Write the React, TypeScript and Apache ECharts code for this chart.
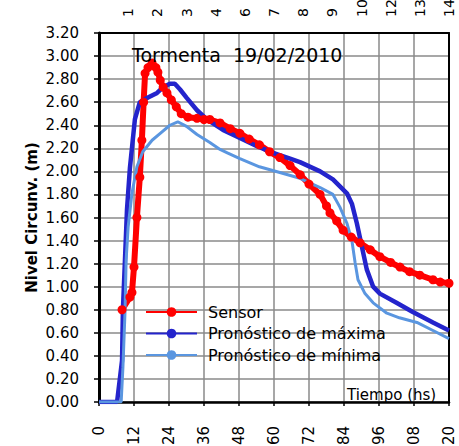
import React, { useEffect, useRef } from "react";
import * as echarts from "echarts";

const FONT = "DejaVu Sans";

const xTicks = [0, 12, 24, 36, 48, 60, 72, 84, 96, 108, 120];
const topTickHours = [10, 20, 30, 40, 50, 60, 70, 80, 90, 100, 110, 120];
const topLabels = ["1", "2", "3", "4", "6", "7", "8", "9", "10", "12", "13", "14"];

const sensorHours = [7.9, 10.6, 11.3, 12.0, 13.0, 14.0, 14.7, 15.3, 15.8, 16.8, 18.2, 19.5, 20.2, 21.0, 22.0, 23.3, 24.8, 26.5, 28.2, 30.5, 33.6, 36, 38, 41.5, 45, 48.3, 51.5, 55, 58.5, 62, 65.5, 69, 72, 75.8, 78, 79.2, 81.5, 83.7, 86.5, 89.5, 93, 96.3, 100, 103.2, 106.5, 110, 114.5, 117, 120];
const sensorLevels = [0.80, 0.91, 0.95, 1.17, 1.60, 1.95, 2.27, 2.60, 2.85, 2.90, 2.94, 2.90, 2.86, 2.79, 2.73, 2.68, 2.62, 2.56, 2.50, 2.47, 2.46, 2.45, 2.45, 2.42, 2.37, 2.33, 2.28, 2.23, 2.17, 2.12, 2.05, 1.97, 1.89, 1.80, 1.70, 1.64, 1.57, 1.49, 1.43, 1.38, 1.32, 1.26, 1.21, 1.17, 1.13, 1.10, 1.06, 1.04, 1.03];

const maxHours = [0, 6.2, 7.9, 8.2, 8.9, 9.6, 10.6, 12.3, 14, 16.8, 19.9, 22, 24.3, 26, 27.8, 30, 33.6, 37, 42.5, 48.3, 54, 59.7, 65.5, 68.9, 75.8, 80.2, 85, 86.7, 88.4, 90.1, 91.8, 94, 96.3, 102, 107.6, 114.5, 120];
const maxLevels = [0, 0, 0.36, 0.8, 1.23, 1.67, 2.03, 2.45, 2.60, 2.64, 2.68, 2.73, 2.76, 2.76, 2.71, 2.64, 2.53, 2.45, 2.36, 2.29, 2.22, 2.16, 2.11, 2.08, 2.0, 1.93, 1.81, 1.72, 1.55, 1.35, 1.15, 1.0, 0.94, 0.86, 0.78, 0.69, 0.62];

const minHours = [0, 7.6, 8.2, 8.9, 9.3, 10, 11.3, 13, 15, 18.2, 21, 24.3, 27, 30, 33.6, 38, 41.5, 44, 48.3, 55, 62, 68.9, 75.8, 80.2, 82.6, 85, 86.7, 87.8, 88.8, 91.2, 94, 98.7, 103, 109, 114.5, 120];
const minLevels = [0, 0, 0.3, 0.77, 1.23, 1.52, 1.81, 2.04, 2.17, 2.27, 2.33, 2.40, 2.43, 2.39, 2.32, 2.25, 2.19, 2.16, 2.11, 2.04, 1.99, 1.94, 1.86, 1.80, 1.69, 1.55, 1.40, 1.21, 1.06, 0.94, 0.86, 0.77, 0.73, 0.69, 0.62, 0.55];

const seriesNames = ["Sensor", "Pronóstico de máxima", "Pronóstico de mínima"];
const chartTitle = "Tormenta  19/02/2010";
const yTitle = "Nivel Circunv. (m)";
const xTitle = "Tiempo (hs)";

const pairs = (xs: number[], ys: number[]) => xs.map((x, i) => [x, ys[i]]);

export default function App() {
  const ref = useRef<HTMLDivElement>(null);
  useEffect(() => {
    if (!ref.current) return;
    const chart = echarts.init(ref.current, null, { renderer: "svg" });
    chart.setOption({
      animation: false,
      backgroundColor: "#fff",
      title: {
        text: chartTitle,
        left: 132,
        top: 45,
        padding: 0,
        textStyle: { fontFamily: FONT, fontSize: 19, fontWeight: "normal", color: "#000" },
      },
      grid: { left: 99, right: 10, top: 33, bottom: 44, containLabel: false, outerBoundsMode: "none" },
      legend: {
        orient: "vertical",
        left: 145,
        top: 304,
        padding: 0,
        itemWidth: 51,
        itemHeight: 12,
        itemGap: 5.5,
        data: seriesNames,
        textStyle: { fontFamily: FONT, fontSize: 16, color: "#000", padding: [0, 0, 0, 6] },
      },
      xAxis: [
        {
          type: "value",
          position: "bottom",
          min: 0,
          max: 120,
          interval: 12,
          axisLine: { show: true, onZero: false, lineStyle: { color: "#000", width: 2.5 } },
          axisTick: { show: true, length: 4, lineStyle: { color: "#000", width: 1.5 } },
          axisLabel: {
            rotate: 90,
            margin: 24,
            fontFamily: FONT,
            fontSize: 15,
            color: "#000",
            formatter: (v: number) => (xTicks.includes(v) ? String(v) : ""),
          },
          splitLine: { show: true, lineStyle: { color: "#8a8a8a", width: 1.5 } },
        },
        {
          type: "value",
          position: "top",
          min: 0,
          max: 120,
          interval: 10,
          axisLine: { show: true, onZero: false, lineStyle: { color: "#000", width: 2 } },
          axisTick: { show: false },
          axisLabel: { show: false },
          splitLine: { show: false },
        },
      ],
      yAxis: [
        {
          type: "value",
          min: 0,
          max: 3.2,
          interval: 0.2,
          name: yTitle,
          nameLocation: "middle",
          nameGap: 60,
          nameMoveOverlap: false,
          nameTextStyle: { fontFamily: FONT, fontSize: 15, fontWeight: "bold", color: "#000" },
          axisLine: { show: true, onZero: false, lineStyle: { color: "#000", width: 3 } },
          axisTick: { show: true, length: 5, lineStyle: { color: "#000", width: 1.5 } },
          axisLabel: {
            margin: 20,
            fontFamily: FONT,
            fontSize: 15,
            color: "#000",
            formatter: (v: number) => v.toFixed(2),
          },
          splitLine: { show: true, lineStyle: { color: "#8a8a8a", width: 1.5 } },
        },
        {
          type: "value",
          position: "right",
          min: 0,
          max: 3.2,
          interval: 0.2,
          axisLine: { show: true, onZero: false, lineStyle: { color: "#000", width: 2 } },
          axisTick: { show: false },
          axisLabel: { show: false },
          splitLine: { show: false },
        },
      ],
      series: [
        {
          name: seriesNames[0],
          type: "line",
          xAxisIndex: 0,
          yAxisIndex: 0,
          data: pairs(sensorHours, sensorLevels),
          symbol: "circle",
          symbolSize: 9,
          showSymbol: true,
          lineStyle: { color: "#ff0000", width: 6 },
          itemStyle: { color: "#ff0000" },
        },
        {
          name: seriesNames[1],
          type: "line",
          xAxisIndex: 0,
          yAxisIndex: 0,
          data: pairs(maxHours, maxLevels),
          symbol: "none",
          lineStyle: { color: "#2424cc", width: 4.5 },
          itemStyle: { color: "#2424cc" },
        },
        {
          name: seriesNames[2],
          type: "line",
          xAxisIndex: 0,
          yAxisIndex: 0,
          data: pairs(minHours, minLevels),
          symbol: "none",
          lineStyle: { color: "#5a96e0", width: 3 },
          itemStyle: { color: "#5a96e0" },
        },
      ],
    });

    const topTexts = topTickHours.map((h, i) => ({
      type: "text",
      x: chart.convertToPixel({ xAxisIndex: 1 }, h) as number,
      y: 17,
      rotation: Math.PI / 2,
      style: {
        text: topLabels[i],
        font: `14px "${FONT}"`,
        fill: "#000",
        align: "left",
        verticalAlign: "middle",
      },
    }));
    chart.setOption({
      graphic: {
        elements: [
          {
            type: "text",
            left: 347,
            top: 387,
            style: { text: xTitle, font: `15px "${FONT}"`, fill: "#000" },
          },
          ...topTexts,
        ],
      },
    });
    return () => chart.dispose();
  }, []);
  return (
    <div
      ref={ref}
      style={{ position: "fixed", left: 0, top: 0, width: 459, height: 446, background: "#fff" }}
    />
  );
}
